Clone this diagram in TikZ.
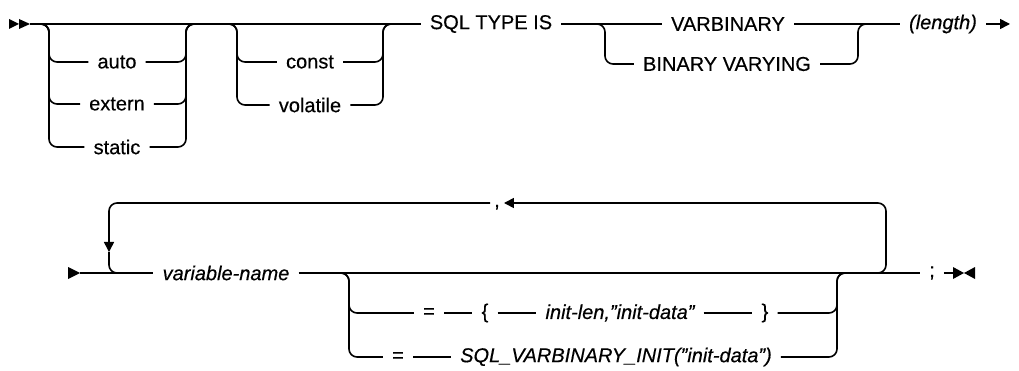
\documentclass[tikz,border=0pt]{standalone}
\usepackage{fontspec}
\setmainfont[FakeBold=0.4]{Liberation Sans}
\usetikzlibrary{arrows,arrows.meta,positioning}
\tikzset{
    %Define standard arrow tip
    >={Triangle[length=10pt,width=10pt]},
    %Define style for keywords
    keyword/.style={
           inner xsep=9pt,
           inner ysep=2pt,
           font=\fontsize{20}{24}\selectfont,
           text centered},
    %Define style for user text
    usertext/.style={
           keyword,
           font=\fontsize{20}{24}\selectfont\itshape},
    %Define style for punctuation
    punct/.style={
           keyword,
           inner xsep=4pt,
           text height=8pt,
           text depth=0pt},
    % Define line style
    rail/.style={
           line width=1.6pt,
           rounded corners=8pt},
    marker/.style={
           fill=black}
}
\begin{document}
\begin{tikzpicture}[x=1pt,y=-1pt]
\useasboundingbox (0,0) rectangle (1019,371);
 %nodes, first row
\node[keyword](auto) at (117,62){auto};
\node[keyword](extern) at (117,104){extern};
\node[keyword](static) at (117,147){static};
\node[keyword](const) at (310,62){const};
\node[keyword](volatile) at (310,105){volatile};
\node[keyword](sqltype) at (491,24){SQL TYPE IS};
\node[keyword](varbinary) at (728,24){VARBINARY};
\node[keyword](binvar) at (727,64){BINARY VARYING};
\node[usertext](length) at (943,24){(length)};
 %nodes, second row
\node[usertext](varname) at (226,273){variable-name};
\node[punct](comma) at (497,203){,};
\node[keyword](eqA) at (429,313){=};
\node[keyword](lbrace) at (485,313){\{};
\node[usertext](initlen) at (620,313){init-len,"init-data"};
\node[keyword](rbrace) at (765,313){\}};
\node[keyword](eqB) at (398,357){=};
\node[usertext](sqlinit) at (616,357){SQL\_VARBINARY\_INIT("init-data")};
\node[keyword](semi) at (932,273){;};
 %junctions
\coordinate (start1) at (30,24);
\coordinate (end1) at (1010,24);
\coordinate (g1in) at (38,24);
\coordinate (g1L) at (49,24);
\coordinate (g1R) at (186,24);
\coordinate (g1out) at (197,24);
\coordinate (g2in) at (226,24);
\coordinate (g2L) at (237,24);
\coordinate (g2R) at (383,24);
\coordinate (g2out) at (394,24);
\coordinate (g3in) at (594,24);
\coordinate (g3L) at (605,24);
\coordinate (g3R) at (858,24);
\coordinate (g3out) at (869,24);
\coordinate (start2) at (80,273);
\coordinate (end2) at (953,273);
\coordinate (loopTL) at (109,203);
\coordinate (loopDown) at (109,252);
\coordinate (loopIn) at (127,273);
\coordinate (loopOut) at (873,273);
\coordinate (loopTR) at (886,203);
\coordinate (g4in) at (338,273);
\coordinate (g4L) at (349,273);
\coordinate (g4R) at (837,273);
\coordinate (g4out) at (848,273);
 %markers
\fill[marker] (9,19) -- (19,24) -- (9,29) -- cycle;
\fill[marker] (19,19) -- (30,24) -- (19,29) -- cycle;
\fill[marker] (68,267) -- (80,273) -- (68,279) -- cycle;
\fill[marker] (953,267) -- (964,273) -- (953,279) -- cycle;
\fill[marker] (975,267) -- (964,273) -- (975,279) -- cycle;
 %first row
\draw[rail] (start1) -- (sqltype);
\foreach \n in {auto,extern,static}{
  \draw[rail] (g1in) -- (g1L) |- (\n);
  \draw[rail] (\n) -| (g1R) -- (g1out);
}
\foreach \n in {const,volatile}{
  \draw[rail] (g2in) -- (g2L) |- (\n);
  \draw[rail] (\n) -| (g2R) -- (g2out);
}
\draw[rail] (sqltype) -- (varbinary);
\draw[rail] (g3in) -- (g3L) |- (binvar);
\draw[rail] (binvar) -| (g3R) -- (g3out);
\draw[rail] (varbinary) -- (length);
\draw[rail,->] (length) -- (end1);
 %second row
\draw[rail] (start2) -- (varname);
\draw[rail] (varname) -- (semi);
\draw[rail] (semi) -- (end2);
\draw[rail,->] (loopOut) -| (loopTR) -- (comma);
\draw[rail,->] (comma) -- (loopTL) -- (loopDown);
\draw[rail] (loopDown) |- (loopIn);
\draw[rail] (g4in) -- (g4L) |- (eqA);
\draw[rail] (eqA) -- (lbrace);
\draw[rail] (lbrace) -- (initlen);
\draw[rail] (initlen) -- (rbrace);
\draw[rail] (rbrace) -| (g4R) -- (g4out);
\draw[rail] (g4in) -- (g4L) |- (eqB);
\draw[rail] (eqB) -- (sqlinit);
\draw[rail] (sqlinit) -| (g4R) -- (g4out);
\end{tikzpicture}
\end{document}
